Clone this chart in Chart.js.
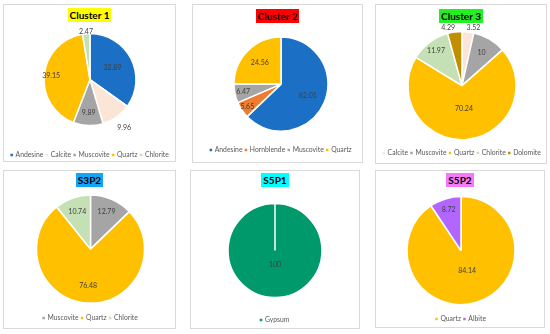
<!DOCTYPE html>
<html>
<head>
<meta charset="utf-8">
<script src="https://cdn.jsdelivr.net/npm/chart.js@4.4.0/dist/chart.umd.min.js"></script>
<style>
  body { margin: 0; background: #fff; }
  #wrap { position: relative; width: 550px; height: 334px; overflow: hidden; background: #fff; }
  .panel { position: absolute; border: 1px solid #d9d9d9; box-sizing: border-box; }
  .panel canvas { position: absolute; left: 0; top: 0; z-index: 3; }
  .ttl { position: absolute; left: 0; right: 0; text-align: center; font: bold 10px Lato, sans-serif; line-height: 11px; color: #000; z-index: 2; }
  .ttl span { padding: 1px 2px; }
</style>
</head>
<body>
<div id="wrap"></div>
<script>
// les données
const cluster1Labels = ['Andesine', 'Calcite', 'Muscovite', 'Quartz', 'Chlorite'];
const cluster1Values = [32.89, 9.96, 9.89, 39.15, 2.47];

const cluster2Labels = ['Andesine', 'Hornblende', 'Muscovite', 'Quartz'];
const cluster2Values = [62.01, 5.65, 6.47, 24.56];

const cluster3Labels = ['Calcite', 'Muscovite', 'Quartz', 'Chlorite', 'Dolomite'];
const cluster3Values = [3.52, 10, 70.24, 11.97, 4.29];

const s3p2Labels = ['Muscovite', 'Quartz', 'Chlorite'];
const s3p2Values = [12.79, 76.48, 10.74];

const s5p1Labels = ['Gypsum'];
const s5p1Values = [100];

const s5p2Labels = ['Quartz', 'Albite'];
const s5p2Values = [84.14, 8.72];

// couleurs par minéral
const mineralColors = {
  Andesine: '#1b6fc4',
  Calcite: '#fbe5d6',
  Muscovite: '#a5a5a5',
  Quartz: '#ffc000',
  Chlorite: '#c5e0b4',
  Hornblende: '#ed7d31',
  Dolomite: '#bf8f00',
  Gypsum: '#00996b',
  Albite: '#b266ff'
};

// ---------------------------
// mise en page des 6 panneaux
// pos : fraction du rayon pour chaque étiquette, ou [fraction, décalage x]
const LEG_H = 20, LEG_OFF = 6.5, EXTRA = 30;
const panels = [
  { title: 'Cluster 1', bg: '#ffff00', labels: cluster1Labels, values: cluster1Values,
    left: 3, top: 4, w: 173, h: 158, ttlTop: 5, cx: 86, cy: 74.5, r: 46, legY: 150,
    pos: [0.55, 1.28, 0.72, 0.85, 1.05] },
  { title: 'Cluster 2', bg: '#ff0000', labels: cluster2Labels, values: cluster2Values,
    left: 192, top: 4, w: 171, h: 159, ttlTop: 6, cx: 88, cy: 79, r: 47, legY: 145,
    pos: [0.62, 0.86, 0.82, 0.64] },
  { title: 'Cluster 3', bg: '#22f022', labels: cluster3Labels, values: cluster3Values,
    left: 375, top: 4, w: 172, h: 160, ttlTop: 6, cx: 86, cy: 80.5, r: 54, legY: 148,
    pos: [[1.07, 5], 0.71, 0.43, 0.8, [1.08, -6]] },
  { title: 'S3P2', bg: '#14a5f5', labels: s3p2Labels, values: s3p2Values,
    left: 3, top: 170, w: 173, h: 159, ttlTop: 4, cx: 86.5, cy: 78, r: 54, legY: 147,
    pos: [0.76, 0.68, 0.74] },
  { title: 'S5P1', bg: '#00ffff', labels: s5p1Labels, values: s5p1Values,
    left: 190, top: 170, w: 170, h: 159, ttlTop: 4, cx: 84, cy: 79.5, r: 47, legY: 149,
    pos: [0.3] },
  { title: 'S5P2', bg: '#f47af7', labels: s5p2Labels, values: s5p2Values,
    left: 375, top: 170, w: 170, h: 158, ttlTop: 4, cx: 85, cy: 79.5, r: 54, legY: 148,
    pos: [0.39, 0.79] }
];

// plugin maison pour les étiquettes de valeurs
const valueLabels = {
  id: 'valueLabels',
  afterDatasetsDraw(chart, args, opts) {
    const ctx = chart.ctx;
    const meta = chart.getDatasetMeta(0);
    const data = chart.data.datasets[0].data;
    ctx.save();
    ctx.font = '7px Lato, sans-serif';
    ctx.fillStyle = '#404040';
    ctx.textAlign = 'center';
    ctx.textBaseline = 'middle';
    meta.data.forEach((arc, i) => {
      let f = opts.pos[i], dx = 0;
      if (Array.isArray(f)) { dx = f[1]; f = f[0]; }
      const mid = (arc.startAngle + arc.endAngle) / 2;
      const rr = arc.outerRadius * f;
      ctx.fillText(String(data[i]), arc.x + Math.cos(mid) * rr + dx, arc.y + Math.sin(mid) * rr);
    });
    ctx.restore();
  }
};

const wrap = document.getElementById('wrap');
panels.forEach(p => {
  const div = document.createElement('div');
  div.className = 'panel';
  div.style.left = p.left + 'px';
  div.style.top = p.top + 'px';
  div.style.width = p.w + 'px';
  div.style.height = p.h + 'px';
  const ttl = document.createElement('div');
  ttl.className = 'ttl';
  ttl.style.top = p.ttlTop + 'px';
  ttl.innerHTML = '<span style="background:' + p.bg + '">' + p.title + '</span>';
  div.appendChild(ttl);
  const ch = p.h + EXTRA;
  const canvas = document.createElement('canvas');
  canvas.style.width = p.w + 'px';
  canvas.style.height = ch + 'px';
  div.appendChild(canvas);
  wrap.appendChild(div);

  const legTop = p.legY - LEG_OFF;
  const padTop = 2 * p.cy - legTop;
  const padBottom = ch - legTop - LEG_H;
  const padLeft = Math.max(0, 2 * p.cx - p.w);
  const padRight = Math.max(0, p.w - 2 * p.cx);

  new Chart(canvas, {
    type: 'pie',
    data: {
      labels: p.labels,
      datasets: [{
        data: p.values,
        backgroundColor: p.labels.map(l => mineralColors[l]),
        borderColor: '#ffffff',
        borderWidth: 1.5,
        radius: p.r
      }]
    },
    options: {
      responsive: false,
      animation: false,
      layout: { padding: { top: padTop, bottom: padBottom, left: padLeft, right: padRight } },
      plugins: {
        legend: {
          position: 'bottom',
          labels: {
            usePointStyle: true,
            pointStyle: 'rect',
            boxWidth: 1,
            boxHeight: 4,
            padding: 3,
            color: '#595959',
            font: { family: 'Lato', size: 6.8 }
          }
        },
        tooltip: { enabled: false },
        valueLabels: { pos: p.pos }
      }
    },
    plugins: [valueLabels]
  });
});
</script>
</body>
</html>
